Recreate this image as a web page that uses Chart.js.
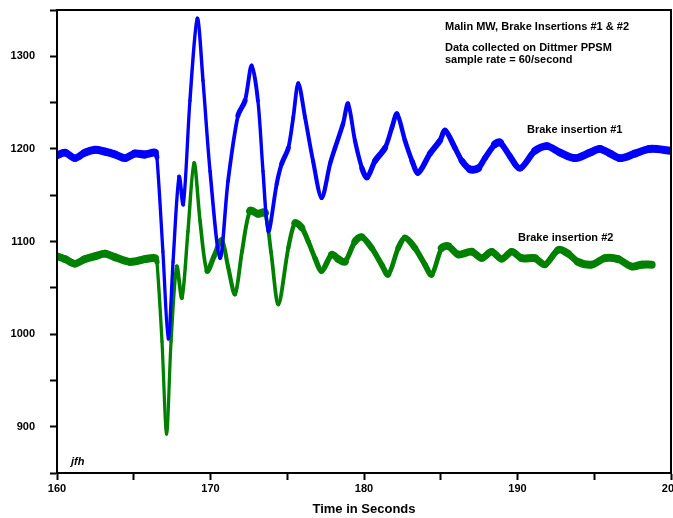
<!DOCTYPE html>
<html>
<head>
<meta charset="utf-8">
<script src="https://cdn.jsdelivr.net/npm/chart.js@4.4.1/dist/chart.umd.min.js"></script>
<style>
body{margin:0;background:#fff}
</style>
</head>
<body>
<canvas id="chart" width="673" height="518"></canvas>
<script>

// values (seconds, MW)
const time1 = [160.0,160.52,161.17,161.82,162.48,163.13,163.78,164.43,165.08,165.73,166.38,166.51,166.9,167.25,167.56,167.95,168.23,168.66,169.14,169.51,169.97,170.62,171.14,171.79,172.25,172.68,173.09,173.42,173.77,174.31,174.64,175.07,175.39,175.72,176.16,176.68,177.24,177.79,178.11,178.63,178.96,179.41,179.87,180.2,180.72,181.37,181.82,182.15,182.67,183.13,183.52,184.3,184.95,185.28,185.93,186.38,186.91,187.43,187.88,188.53,188.86,189.51,190.16,191.14,191.92,192.77,193.75,194.72,195.37,196.03,196.68,197.66,198.63,200.0]
const brake1 = [1193,1196,1190,1196,1199,1197,1194,1190,1195,1194,1196,1191,1089,995,1078,1170,1140,1252,1341,1274,1176,1082,1165,1236,1252,1290,1252,1176,1111,1162,1184,1201,1234,1271,1234,1187,1147,1184,1201,1227,1249,1209,1179,1169,1187,1201,1223,1238,1209,1187,1174,1195,1209,1220,1201,1187,1178,1179,1190,1205,1207,1192,1179,1198,1203,1196,1190,1196,1200,1195,1190,1195,1200,1198]

const time2 = [160.0,160.52,161.17,161.82,162.48,163.13,163.78,164.76,165.73,166.38,166.51,166.84,167.14,167.43,167.8,168.14,168.53,168.93,169.32,169.77,170.23,170.73,171.14,171.6,172.05,172.57,173.09,173.55,173.94,174.42,175.07,175.5,175.94,176.37,176.81,177.24,177.9,178.33,178.76,179.41,179.85,180.5,181.15,181.58,182.23,182.67,183.32,183.97,184.41,185.06,185.49,186.14,187.02,187.67,188.32,188.97,189.62,190.27,191.14,191.79,192.66,193.29,193.94,194.83,195.7,196.55,197.44,198.09,198.74]
const brake2 = [1084,1081,1076,1081,1084,1087,1083,1078,1081,1082,1078,992,892,992,1073,1039,1111,1185,1122,1068,1084,1102,1073,1043,1089,1133,1130,1131,1089,1032,1093,1120,1115,1100,1082,1068,1086,1081,1078,1100,1105,1093,1075,1064,1093,1104,1093,1075,1064,1093,1095,1086,1089,1082,1089,1081,1089,1082,1082,1075,1091,1087,1078,1075,1082,1081,1073,1075,1075]

const xLabels = [160,170,180,190,200]
const yLabels = [900,1000,1100,1200,1300]

const FONT = '"Liberation Sans", Arial, sans-serif'

function pts(xs, ys){
  return xs.map((x,i)=>({x:x, y:ys[i]}))
}

// noisy trace looks like a wide band when flat, thin when steep
function bandWidth(c){
  let dx = c.p1.x - c.p0.x
  let dy = c.p1.y - c.p0.y
  let s = Math.abs(dy/(dx||1))
  return 3 + 5/Math.sqrt(1+s*s)
}

const frame = {
  id:'frame',
  afterDraw(chart){
    const {ctx, chartArea:a} = chart
    ctx.save()
    ctx.strokeStyle = '#000'
    ctx.lineWidth = 2
    ctx.strokeRect(a.left, a.top, a.right-a.left, a.bottom-a.top)

    ctx.fillStyle = '#000'
    ctx.textBaseline = 'middle'
    ctx.textAlign = 'left'
    ctx.font = 'bold 11px ' + FONT
    ctx.fillText('Malin MW, Brake Insertions #1 & #2', 445, 27)
    ctx.fillText('Data collected on Dittmer PPSM', 445, 48)
    ctx.fillText('sample rate = 60/second', 445, 60)
    ctx.fillText('Brake insertion #1', 527, 130)
    ctx.fillText('Brake insertion #2', 518, 238)
    ctx.font = 'italic bold 11px ' + FONT
    ctx.fillText('jfh', 71, 462)
    ctx.restore()
  }
}

new Chart(document.getElementById('chart'), {
  type:'line',
  data:{
    datasets:[
      {
        label:'Brake insertion #1',
        data:pts(time1, brake1),
        borderColor:'#0000ff',
        borderWidth:4,
        pointRadius:0,
        tension:0.3,
        borderJoinStyle:'round',
        borderCapStyle:'round',
        segment:{borderWidth:bandWidth}
      },
      {
        label:'Brake insertion #2',
        data:pts(time2, brake2),
        borderColor:'#008000',
        borderWidth:4,
        pointRadius:0,
        tension:0.3,
        borderJoinStyle:'round',
        borderCapStyle:'round',
        segment:{borderWidth:bandWidth}
      }
    ]
  },
  options:{
    responsive:false,
    animation:false,
    layout:{padding:{top:10, right:2, left:0, bottom:0}},
    plugins:{legend:{display:false}, tooltip:{enabled:false}},
    scales:{
      x:{
        type:'linear',
        min:160, max:200,
        afterFit(s){ s.height = 45; s.paddingLeft = 0; s.paddingRight = 0 },
        border:{display:true, color:'#000', width:2},
        grid:{drawOnChartArea:false, drawTicks:true, tickLength:7, tickColor:'#000', tickWidth:2},
        ticks:{
          stepSize:5, autoSkip:false, maxRotation:0, padding:2,
          color:'#000', font:{family:FONT, size:11, weight:'bold'},
          callback:v => xLabels.includes(v) ? String(v) : ''
        },
        title:{display:true, text:'Time in Seconds', color:'#000',
          font:{family:FONT, size:13, weight:'bold'}, padding:{top:0, bottom:1}}
      },
      y:{
        min:850, max:1350,
        afterFit(s){ s.width = 57; s.paddingTop = 0; s.paddingBottom = 0 },
        border:{display:true, color:'#000', width:2},
        grid:{drawOnChartArea:false, drawTicks:true, tickLength:7, tickColor:'#000', tickWidth:2},
        ticks:{
          stepSize:50, autoSkip:false, padding:15,
          color:'#000', font:{family:FONT, size:11, weight:'bold'},
          callback:v => yLabels.includes(v) ? String(v) : ''
        }
      }
    }
  },
  plugins:[frame]
})

</script>
</body>
</html>
